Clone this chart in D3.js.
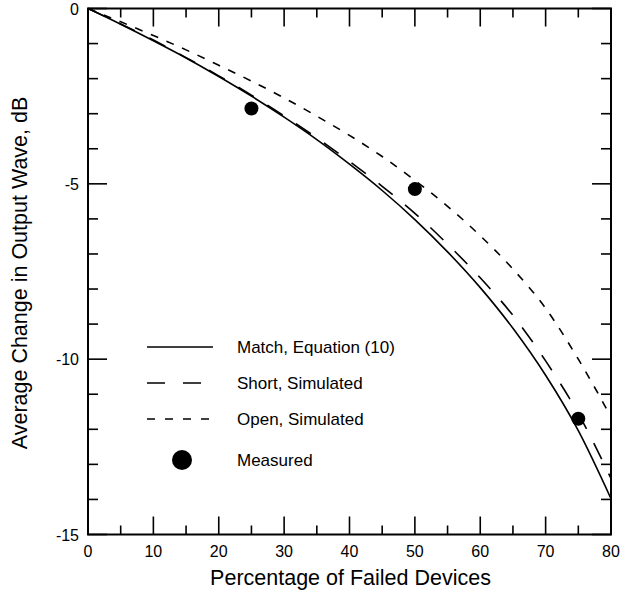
<!DOCTYPE html>
<html><head><meta charset="utf-8">
<script src="https://cdn.jsdelivr.net/npm/d3@7"></script>
<style>body{margin:0;background:#fff}svg{display:block}text{font-family:"Liberation Sans",Arial,sans-serif;fill:#000}</style>
</head><body>
<svg id="c" width="621" height="590"></svg>
<script>
const pct = [0,5,10,15,20,25,30,35,40,45,50,55,60,65,70,75,80];
const matchEq = [0,-0.45,-0.92,-1.41,-1.94,-2.50,-3.10,-3.74,-4.44,-5.19,-6.02,-6.94,-7.96,-9.12,-10.46,-12.04,-13.98];
const shortSim = [0,-0.44,-0.90,-1.40,-1.92,-2.47,-3.06,-3.69,-4.36,-5.07,-5.84,-6.72,-7.68,-8.75,-10.05,-11.55,-13.40];
const openSim = [0,-0.38,-0.77,-1.18,-1.62,-2.07,-2.55,-3.07,-3.62,-4.22,-4.90,-5.64,-6.48,-7.43,-8.55,-10.0,-11.65];
const measPct = [25,50,75];
const measVal = [-2.85,-5.15,-11.7];
const xTicks = [0,10,20,30,40,50,60,70,80];
const yTicks = [0,-5,-10,-15];
const legendLabels = ["Match, Equation (10)","Short, Simulated","Open, Simulated","Measured"];

const svg = d3.select("#c");
const L=88,R=611,T=8.5,B=534.5;
const x = d3.scaleLinear().domain([0,80]).range([L,R]);
const y = d3.scaleLinear().domain([-15,0]).range([B,T]);

const g = svg.append("g");
const xMinor = d3.range(0,81,5), yMinor = d3.range(-15,0.1,1);
const tk = g.append("g").attr("stroke","#000").attr("stroke-width",1.6);
xMinor.forEach(v=>{
  const len = v%10===0?18:9;
  tk.append("line").attr("x1",x(v)).attr("x2",x(v)).attr("y1",B).attr("y2",B-len);
  tk.append("line").attr("x1",x(v)).attr("x2",x(v)).attr("y1",T).attr("y2",T+len);
});
yMinor.forEach(v=>{
  const len = v%5===0?19:10;
  tk.append("line").attr("y1",y(v)).attr("y2",y(v)).attr("x1",L).attr("x2",L+len);
  tk.append("line").attr("y1",y(v)).attr("y2",y(v)).attr("x1",R).attr("x2",R-len);
});
g.append("rect").attr("x",L).attr("y",T).attr("width",R-L).attr("height",B-T)
  .attr("fill","none").attr("stroke","#000").attr("stroke-width",2);

g.selectAll(".xl").data(xTicks).enter().append("text")
  .attr("x",d=>x(d)).attr("y",B+22).attr("text-anchor","middle").attr("font-size",16).text(d=>d);
g.selectAll(".yl").data(yTicks).enter().append("text")
  .attr("x",L-9).attr("y",d=>y(d)+6).attr("text-anchor","end").attr("font-size",16).text(d=>d);

g.append("text").attr("x",(L+R)/2+1).attr("y",585).attr("text-anchor","middle").attr("font-size",21.5)
  .text("Percentage of Failed Devices");
g.append("text").attr("transform",`translate(27,273) rotate(-90)`).attr("text-anchor","middle")
  .attr("font-size",21.5).text("Average Change in Output Wave, dB");

const line = d3.line().x(d=>x(d[0])).y(d=>y(d[1])).curve(d3.curveMonotoneX);
const series = [
  {v:matchEq, dash:null},
  {v:shortSim, dash:"18,16"},
  {v:openSim, dash:"8,9"}
];
series.forEach(s=>{
  g.append("path").datum(pct.map((p,i)=>[p,s.v[i]])).attr("d",line)
   .attr("fill","none").attr("stroke","#000").attr("stroke-width",1.6)
   .attr("stroke-dasharray",s.dash);
});
g.selectAll(".m").data(measPct.map((p,i)=>[p,measVal[i]])).enter().append("circle")
  .attr("cx",d=>x(d[0])).attr("cy",d=>y(d[1])).attr("r",7).attr("fill","#000");

const ly=[347,383,419,460];
const dashes=[null,"18,18","8,10"];
for(let i=0;i<3;i++){
  g.append("line").attr("x1",147).attr("x2",i===1?202:213).attr("y1",ly[i]).attr("y2",ly[i])
   .attr("stroke","#000").attr("stroke-width",1.6).attr("stroke-dasharray",dashes[i]);
}
g.append("circle").attr("cx",182).attr("cy",ly[3]).attr("r",10).attr("fill","#000");
legendLabels.forEach((t,i)=>{
  g.append("text").attr("x",237).attr("y",ly[i]+6).attr("font-size",17).text(t);
});
</script>
</body></html>
